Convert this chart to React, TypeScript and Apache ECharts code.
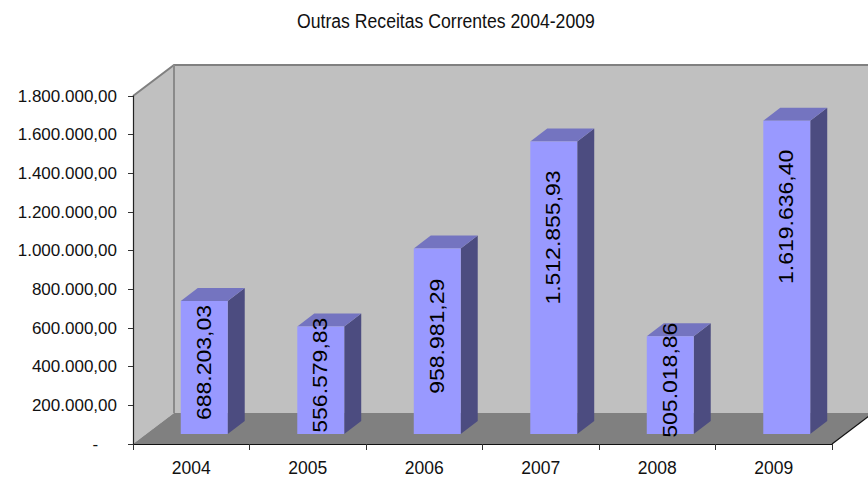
import React, { useEffect, useRef } from "react";
import * as echarts from "echarts";

const title = "Outras Receitas Correntes 2004-2009";
const years = ["2004", "2005", "2006", "2007", "2008", "2009"];
const values = [688203.03, 556579.83, 958981.29, 1512855.93, 505018.86, 1619636.4];
const yMin = 0;
const yMax = 1800000;
const yInterval = 200000;

const FONT = "'Liberation Sans', Arial, sans-serif";

function fmtBR(v: number): string {
  const fixed = Math.abs(v).toFixed(2);
  const [intPart, dec] = fixed.split(".");
  const withDots = intPart.replace(/\B(?=(\d{3})+(?!\d))/g, ".");
  return (v < 0 ? "-" : "") + withDots + "," + dec;
}

// 3D geometry (pixels)
const WALL_DX = 41;
const WALL_DY = -31;
const BAR_OX = 13;
const BAR_OY = -10;
const BAR_DX = 17;
const BAR_DY = -13;
const BAR_RATIO = 0.403;

export default function App() {
  const ref = useRef<HTMLDivElement>(null);
  useEffect(() => {
    if (!ref.current) return;
    const chart = echarts.init(ref.current, null, { renderer: "svg" });
    const option: any = {
      animation: false,
      backgroundColor: "#ffffff",
      graphic: [
        {
          type: "text",
          left: 297,
          top: 10,
          scaleX: 0.84,
          style: {
            text: title,
            fontFamily: FONT,
            fontSize: 21,
            fill: "#111",
          },
        },
      ],
      grid: { left: 133, right: 36, top: 96, bottom: 40, containLabel: false, outerBoundsMode: "none" },
      xAxis: {
        type: "category",
        data: years,
        boundaryGap: true,
        axisLine: { show: true, lineStyle: { color: "#111", width: 1.2 } },
        axisTick: { show: true, length: 6, interval: 0, lineStyle: { color: "#333" } },
        axisLabel: { margin: 15, fontFamily: FONT, fontSize: 17.5, color: "#111", interval: 0 },
        splitLine: { show: false },
        z: 5,
      },
      yAxis: {
        type: "value",
        min: yMin,
        max: yMax,
        interval: yInterval,
        axisLine: { show: true, lineStyle: { color: "#222", width: 1.2 } },
        axisTick: { show: true, length: 5, lineStyle: { color: "#333" } },
        splitLine: { show: false },
        axisLabel: {
          margin: 16,
          fontFamily: FONT,
          fontSize: 17,
          color: "#111",
          formatter: (v: number) => (v === 0 ? "-" + "\u00a0".repeat(4) : fmtBR(v)),
        },
        z: 5,
      },
      series: [
        {
          type: "custom",
          z: 1,
          silent: true,
          data: [0],
          renderItem: (params: any) => {
            const cs = params.coordSys;
            const x = cs.x, y = cs.y, w = cs.width, h = cs.height;
            return {
              type: "group",
              children: [
                {
                  type: "rect",
                  shape: { x: x + WALL_DX, y: y + WALL_DY, width: w + 10, height: h },
                  style: { fill: "#C0C0C0" },
                },
                {
                  type: "polygon",
                  shape: {
                    points: [
                      [x, y],
                      [x + WALL_DX, y + WALL_DY],
                      [x + WALL_DX, y + h + WALL_DY],
                      [x, y + h],
                    ],
                  },
                  style: { fill: "#C0C0C0" },
                },
                {
                  type: "polygon",
                  shape: {
                    points: [
                      [x, y + h],
                      [x + WALL_DX, y + h + WALL_DY],
                      [x + w + WALL_DX, y + h + WALL_DY],
                      [x + w, y + h],
                    ],
                  },
                  style: { fill: "#808080" },
                },
                {
                  type: "polyline",
                  shape: {
                    points: [
                      [x, y],
                      [x + WALL_DX, y + WALL_DY],
                      [x + w + WALL_DX + 10, y + WALL_DY],
                    ],
                  },
                  style: { stroke: "#808080", lineWidth: 2, fill: "none" },
                },
                {
                  type: "line",
                  shape: { x1: x + WALL_DX, y1: y + WALL_DY, x2: x + WALL_DX, y2: y + h + WALL_DY },
                  style: { stroke: "#8a8a8a", lineWidth: 2 },
                },
                {
                  type: "line",
                  shape: { x1: x + w, y1: y + h, x2: x + w + WALL_DX, y2: y + h + WALL_DY },
                  style: { stroke: "#111", lineWidth: 1.2 },
                },
              ],
            };
          },
        },
        {
          type: "custom",
          z: 2,
          data: values.map((v, i) => [i, v]),
          encode: { x: 0, y: 1 },
          renderItem: (params: any, api: any) => {
            const cat = api.value(0);
            const v = api.value(1);
            const base = api.coord([cat, 0]);
            const top = api.coord([cat, v]);
            const band = api.size([1, 0])[0];
            const bw = band * BAR_RATIO;
            const x0 = base[0] + BAR_OX - bw / 2;
            const yb = base[1] + BAR_OY;
            const yt = top[1] + BAR_OY;
            const hh = yb - yt;
            const ch = Math.max(hh / 2 + 5, hh - 96);
            return {
              type: "group",
              children: [
                {
                  type: "polygon",
                  shape: {
                    points: [
                      [x0 + bw, yt],
                      [x0 + bw + BAR_DX, yt + BAR_DY],
                      [x0 + bw + BAR_DX, yb + BAR_DY],
                      [x0 + bw, yb],
                    ],
                  },
                  style: { fill: "#4C4C80" },
                },
                {
                  type: "polygon",
                  shape: {
                    points: [
                      [x0, yt],
                      [x0 + bw, yt],
                      [x0 + bw + BAR_DX, yt + BAR_DY],
                      [x0 + BAR_DX, yt + BAR_DY],
                    ],
                  },
                  style: { fill: "#7474C0" },
                },
                {
                  type: "rect",
                  shape: { x: x0, y: yt, width: bw, height: hh },
                  style: { fill: "#9999FF" },
                },
                {
                  type: "text",
                  x: x0 + bw / 2,
                  y: yb - ch,
                  rotation: Math.PI / 2,
                  scaleY: 0.86,
                  style: {
                    text: fmtBR(v),
                    fontFamily: FONT,
                    fontSize: 23,
                    fill: "#000",
                    align: "center",
                    verticalAlign: "middle",
                  },
                },
              ],
            };
          },
        },
      ],
    };
    chart.setOption(option);
    return () => chart.dispose();
  }, []);
  return (
    <div
      ref={ref}
      style={{ position: "fixed", left: 0, top: 0, width: 868, height: 484, background: "#fff" }}
    />
  );
}
